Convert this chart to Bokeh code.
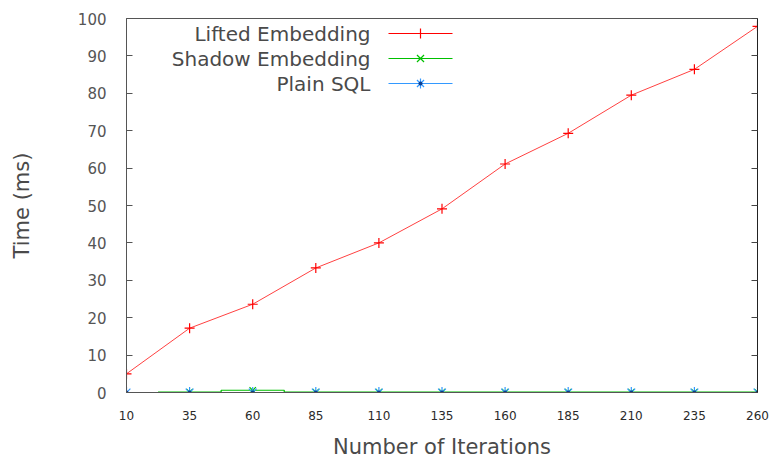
import numpy as np
from bokeh.plotting import figure
from bokeh.models import Range1d, LinearAxis, FixedTicker, CustomJSTickFormatter
from bokeh.core.properties import value
from bokeh.embed import file_html
from bokeh.resources import INLINE

# ---- data ----
iterations = [10, 35, 60, 85, 110, 135, 160, 185, 210, 235, 260]
lifted_ms = [5.0, 17.2, 23.6, 33.3, 40.0, 49.1, 61.1, 69.3, 79.5, 86.4, 97.9]
shadow_ms = [np.nan, 0.1, 0.6, 0.1, 0.1, 0.1, 0.1, 0.1, 0.1, 0.1, 0.1]
plain_sql_ms = [0.0, 0.0, 0.0, 0.0, 0.0, 0.0, 0.0, 0.0, 0.0, 0.0, 0.0]
y_ticks = [0, 10, 20, 30, 40, 50, 60, 70, 80, 90, 100]
series_names = ["Lifted Embedding", "Shadow Embedding", "Plain SQL"]

RED = "#ff0000"
GREEN = "#00c000"
BLUE = "#3399ff"
TXT = "#4a4a4a"
FONT = "DejaVu Sans"

W, H = 769, 462
L, R, T, B = 126, 12, 18, 70

p = figure(width=W, height=H, output_backend="svg", toolbar_location=None,
           x_range=Range1d(10, 260), y_range=Range1d(0, 100),
           min_border_left=L, min_border_right=R, min_border_top=T, min_border_bottom=B)
p.grid.visible = False
p.outline_line_color = "#555555"
p.outline_line_width = 1
p.background_fill_color = "white"
p.border_fill_color = "white"

# axes
xa = p.xaxis[0]
xa.ticker = FixedTicker(ticks=iterations)
xa.axis_label = "Number of Iterations"
xa.major_tick_in = 0
xa.major_tick_out = 0
xa.minor_tick_in = 0
xa.minor_tick_out = 0
xa.major_label_standoff = 18
xa.axis_label_standoff = 12
xa.axis_line_color = "#555555"
xa.major_label_text_font_size = "12px"
xa.major_label_text_color = "#2a2a2a"

ya = p.yaxis[0]
ya.ticker = FixedTicker(ticks=y_ticks)
ya.axis_label = "Time (ms)"
ya.major_tick_in = 6
ya.major_tick_out = 0
ya.minor_tick_in = 0
ya.minor_tick_out = 0
ya.major_label_standoff = 20
ya.axis_label_standoff = 41
ya.axis_line_color = "#555555"
ya.major_tick_line_color = "#555555"
ya.major_label_text_font_size = "15px"
ya.major_label_text_color = "#555555"

for ax in (xa, ya):
    ax.major_label_text_font = FONT
    ax.axis_label_text_font = FONT
    ax.axis_label_text_font_size = "21px"
    ax.axis_label_text_font_style = "normal"
    ax.axis_label_text_color = TXT

ra = LinearAxis(ticker=FixedTicker(ticks=y_ticks),
                formatter=CustomJSTickFormatter(code="return ''"),
                major_tick_in=6, major_tick_out=0, minor_tick_in=0, minor_tick_out=0,
                axis_line_color="#222222", major_tick_line_color="#444444",
                major_label_standoff=0)
p.add_layout(ra, "right")

# ---- Lifted Embedding ----
p.line(iterations, lifted_ms, line_color=RED, line_width=1, line_alpha=0.75)
p.scatter(iterations, lifted_ms, marker="cross", size=10, line_color=RED, line_width=1.2)

# ---- Shadow Embedding (histeps) ----
sx = np.array(iterations, dtype=float)
sy = np.array(shadow_ms, dtype=float)
ok = ~np.isnan(sy)
vx, vy = sx[ok], sy[ok]
mids = (vx[:-1] + vx[1:]) / 2
left_edge = vx[0] - (vx[1] - vx[0]) / 2
right_edge = vx[-1] + (vx[-1] - vx[-2]) / 2
edges = np.concatenate([[left_edge], mids, [right_edge]])
hx, hy = [], []
for i in range(len(vx)):
    hx += [edges[i], edges[i + 1]]
    hy += [vy[i], vy[i]]
p.line(hx, hy, line_color=GREEN, line_width=1.2)
p.scatter(list(vx), list(vy), marker="x", size=9, line_color=GREEN, line_width=1.2)

# ---- Plain SQL ----
p.scatter(iterations, plain_sql_ms, marker="asterisk", size=11, line_color=BLUE, line_width=1.2)
p.scatter(iterations, plain_sql_ms, marker="circle", size=4, fill_color="#0b3d91", line_color=None)

# ---- legend (gnuplot style: label right, key on the right) ----
fw = W - L - R
fh = H - T - B


def dx(px):
    return 10 + (px - L) / fw * (260 - 10)


def dy(py):
    return (T + fh - py) / fh * 100


rows_py = [33, 58, 83]
colors = [RED, GREEN, BLUE]
markers = ["cross", "x", "asterisk"]
for name, py, c, m in zip(series_names, rows_py, colors, markers):
    p.text(x=[dx(370)], y=[dy(py)], text=[name], text_align="right", text_baseline="middle",
           text_font=value(FONT), text_font_size="20px", text_color=TXT)
    p.line([dx(388), dx(452)], [dy(py), dy(py)], line_color=c, line_width=1.2)
    p.scatter([dx(420)], [dy(py)], marker=m, size=10, line_color=c, line_width=1.2)
p.scatter([dx(420)], [dy(83)], marker="circle", size=4, fill_color="#0b3d91", line_color=None)

open("out.html", "w").write(file_html(p, INLINE))
